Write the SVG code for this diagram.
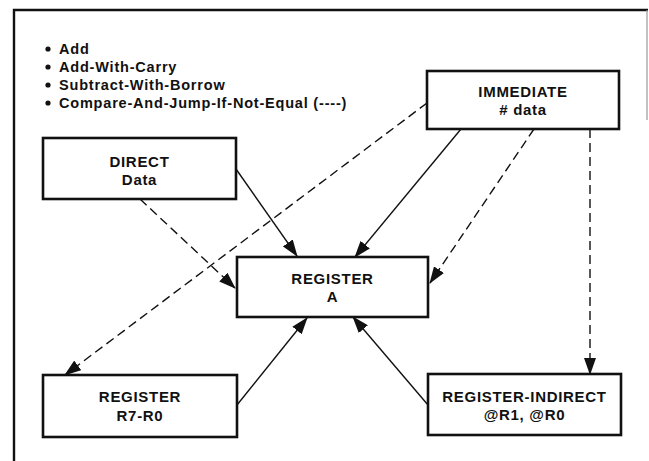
<svg xmlns="http://www.w3.org/2000/svg" width="649" height="461" viewBox="0 0 649 461">
<defs>
<style>
.box{fill:#fff;stroke:#111;stroke-width:2.6}
.t{font-family:"Liberation Sans",Arial,sans-serif;font-weight:bold;font-size:15px;letter-spacing:0.7px;fill:#111;text-anchor:middle}
.b{font-family:"Liberation Sans",Arial,sans-serif;font-weight:bold;font-size:14.5px;letter-spacing:0.8px;fill:#111}
.c{stroke:#111;stroke-width:1.4;fill:none;marker-end:url(#ah)}
.d{stroke-dasharray:9 5}
.frame{stroke:#111;stroke-width:2.4;fill:none}
</style>
<marker id="ah" markerUnits="userSpaceOnUse" markerWidth="17" markerHeight="12" viewBox="0 0 17 12" refX="16" refY="6" orient="auto">
<path d="M0,0 L17,6 L0,12 Z" fill="#111"/>
</marker>
</defs>
<rect width="649" height="461" fill="#fff"/>
<g id="frame">
<path class="frame" d="M14,461 L14,10 L648,10"/>
<path d="M647,10 L647,120" stroke="#999" stroke-width="1.2"/>
</g>
<g id="legend">
<circle cx="48" cy="49" r="2.6" fill="#111"/>
<circle cx="48" cy="67" r="2.6" fill="#111"/>
<circle cx="48" cy="85" r="2.6" fill="#111"/>
<circle cx="48" cy="103" r="2.6" fill="#111"/>
<text class="b" x="59" y="54">Add</text>
<text class="b" x="59" y="72">Add-With-Carry</text>
<text class="b" x="59" y="90">Subtract-With-Borrow</text>
<text class="b" x="59" y="108">Compare-And-Jump-If-Not-Equal (----)</text>
</g>
<g id="connectors">
<line class="c" x1="236" y1="169" x2="297" y2="256"/>
<line class="c d" x1="140" y1="199" x2="235" y2="288"/>
<line class="c" x1="461" y1="129" x2="355" y2="257"/>
<line class="c d" x1="534" y1="129" x2="430" y2="283"/>
<line class="c d" x1="427" y1="103" x2="65" y2="375"/>
<line class="c d" x1="590" y1="129" x2="590" y2="374"/>
<line class="c" x1="237" y1="405" x2="307" y2="318"/>
<line class="c" x1="428" y1="405" x2="353" y2="317"/>
</g>
<g id="immediate">
<rect class="box" x="427" y="71" width="192" height="58"/>
<text class="t" x="523" y="97">IMMEDIATE</text>
<text class="t" x="523" y="115"># data</text>
</g>
<g id="direct">
<rect class="box" x="43" y="138" width="193" height="61"/>
<text class="t" x="139.5" y="167">DIRECT</text>
<text class="t" x="139.5" y="185">Data</text>
</g>
<g id="registerA">
<rect class="box" x="237" y="257" width="191" height="60"/>
<text class="t" x="332.5" y="284">REGISTER</text>
<text class="t" x="332.5" y="302">A</text>
</g>
<g id="registerR">
<rect class="box" x="43" y="375" width="194" height="62"/>
<text class="t" x="140" y="402">REGISTER</text>
<text class="t" x="140" y="421">R7-R0</text>
</g>
<g id="registerIndirect">
<rect class="box" x="428" y="374" width="193" height="61"/>
<text class="t" x="524.5" y="402">REGISTER-INDIRECT</text>
<text class="t" x="524.5" y="420">@R1, @R0</text>
</g>
</svg>
